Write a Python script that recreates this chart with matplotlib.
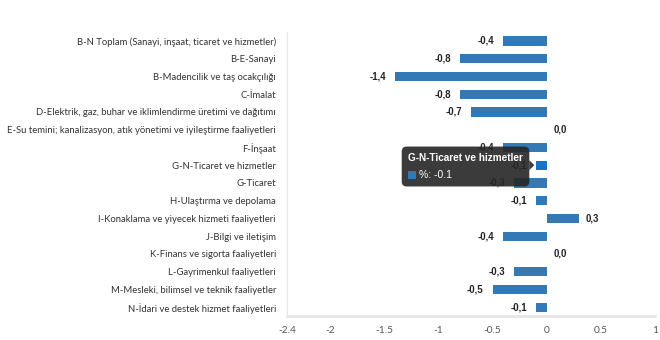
import matplotlib
matplotlib.use("Agg")
import matplotlib.pyplot as plt
from matplotlib.patches import FancyBboxPatch, Rectangle, Polygon
from matplotlib.transforms import IdentityTransform

# sector names (top to bottom) and annual change, %
categories = [
    "B-N Toplam (Sanayi, inşaat, ticaret ve hizmetler)",
    "B-E-Sanayi",
    "B-Madencilik ve taş ocakçılığı",
    "C-İmalat",
    "D-Elektrik, gaz, buhar ve iklimlendirme üretimi ve dağıtımı",
    "E-Su temini; kanalizasyon, atık yönetimi ve iyileştirme faaliyetleri",
    "F-İnşaat",
    "G-N-Ticaret ve hizmetler",
    "G-Ticaret",
    "H-Ulaştırma ve depolama",
    "I-Konaklama ve yiyecek hizmeti faaliyetleri",
    "J-Bilgi ve iletişim",
    "K-Finans ve sigorta faaliyetleri",
    "L-Gayrimenkul faaliyetleri",
    "M-Mesleki, bilimsel ve teknik faaliyetler",
    "N-İdari ve destek hizmet faaliyetleri",
]
values = [-0.4, -0.8, -1.4, -0.8, -0.7, 0.0, -0.4, -0.1, -0.3, -0.1, 0.3, -0.4, 0.0, -0.3, -0.5, -0.1]
xticks = [-2.4, -2, -1.5, -1, -0.5, 0, 0.5, 1]
hover_idx = 7

bar_color = "#3379b6"
hover_color = "#1a72c0"
label_font = ["Lato", "DejaVu Sans"]

fig = plt.figure(figsize=(6.6, 3.4), dpi=100)
ax = fig.add_axes([0.435, 0.0706, 0.557, 0.835])

ypos = list(range(len(categories)))
colors = [hover_color if i == hover_idx else bar_color for i in ypos]
ax.barh(ypos, values, height=0.52, color=colors, zorder=2)

ax.set_xlim(-2.4, 1)
ax.set_ylim(len(categories) - 0.5, -0.5)
ax.set_xticks(xticks)
ax.set_xticklabels([f"{t:g}" for t in xticks], family=label_font, fontsize=7.3, color="#555555")
ax.set_yticks(ypos)
ax.set_yticklabels(categories, family=label_font, fontsize=6.85, color="#333333")
ax.tick_params(axis="both", length=0)
ax.tick_params(axis="y", pad=8)
ax.tick_params(axis="x", pad=7)

for side in ["top", "right"]:
    ax.spines[side].set_visible(False)
ax.spines["left"].set_color("#e6e6e6")
ax.spines["bottom"].set_color("#e6e6e6")
ax.spines["bottom"].set_linewidth(2)

# value labels, decimal comma
for i, v in enumerate(values):
    txt = f"{v:.1f}".replace(".", ",")
    if v < 0:
        ax.annotate(txt, (v, i), xytext=(-6.5, 0), textcoords="offset points",
                    ha="right", va="center", fontsize=6.9, fontweight="bold",
                    family="Liberation Sans", color="#222222", zorder=3)
    else:
        ax.annotate(txt, (v, i), xytext=(5, 0), textcoords="offset points",
                    ha="left", va="center", fontsize=6.9, fontweight="bold",
                    family="Liberation Sans", color="#222222", zorder=3)

# hover tooltip for the highlighted bar
fig.canvas.draw()
bx0, by0 = ax.transData.transform((-1.34, hover_idx + 1.2))
bx1, by1 = ax.transData.transform((-0.16, hover_idx - 1.05))
tip = FancyBboxPatch((bx0, by0), bx1 - bx0, by1 - by0,
                     boxstyle="round,pad=0,rounding_size=5",
                     fc="#262626", ec="none", alpha=0.9,
                     transform=IdentityTransform(), zorder=5)
fig.add_artist(tip)
ay = ax.transData.transform((0, hover_idx))[1]
arrow = Polygon([(bx1, ay + 5), (bx1 + 5, ay), (bx1, ay - 5)], closed=True,
                fc="#262626", ec="none", alpha=0.9,
                transform=IdentityTransform(), zorder=5)
fig.add_artist(arrow)
fig.text((bx0 + 6) / fig.bbox.width, (by1 - 11) / fig.bbox.height,
         categories[hover_idx], color="white", fontsize=7.2, fontweight="bold",
         family="Liberation Sans", va="center", ha="left", zorder=6)
sq = Rectangle((bx0 + 6, by1 - 32), 8, 8, fc=bar_color, ec="none",
               transform=IdentityTransform(), zorder=6)
fig.add_artist(sq)
fig.text((bx0 + 17) / fig.bbox.width, (by1 - 28) / fig.bbox.height,
         f"%: {values[hover_idx]}", color="white", fontsize=7.5,
         family="Liberation Sans", va="center", ha="left", zorder=6)

fig.savefig("out.png", dpi=100)
